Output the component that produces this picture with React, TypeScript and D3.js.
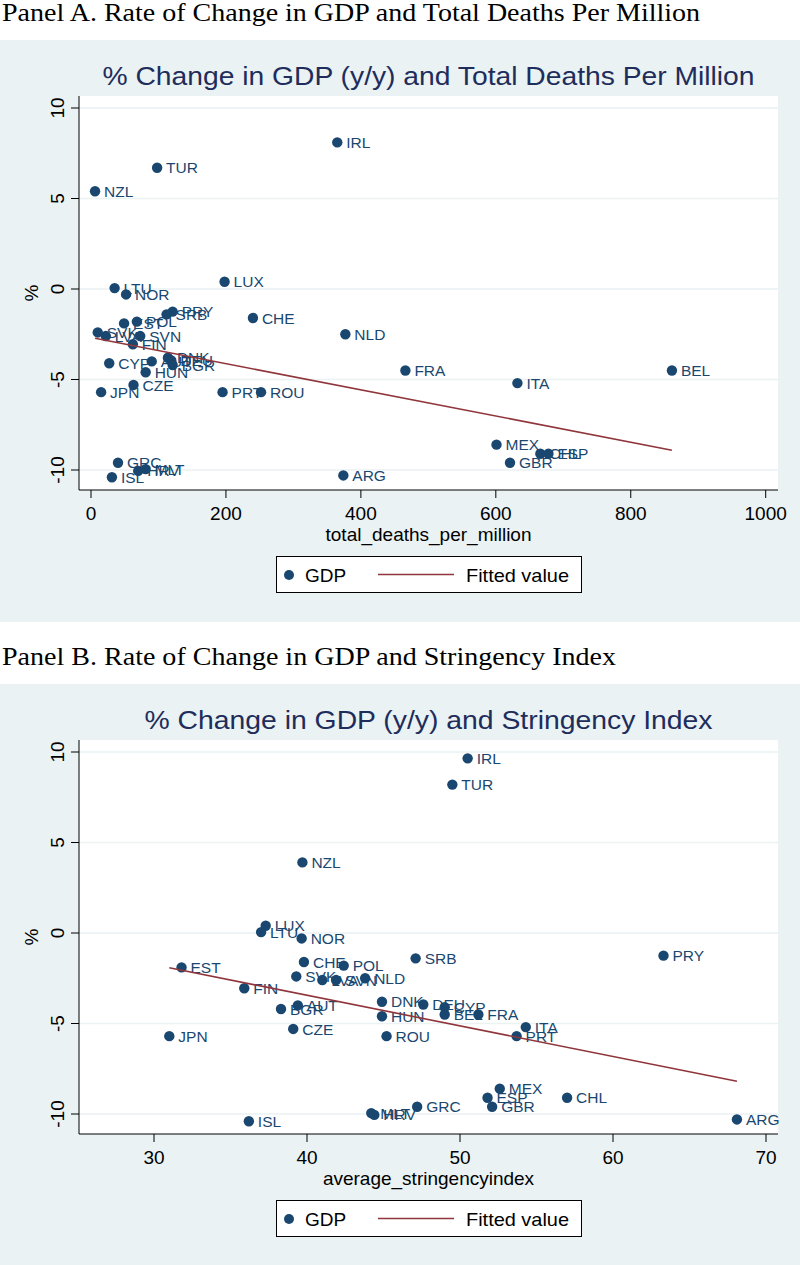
import React from "react";
import * as d3 from "d3";

const countries = ["IRL","TUR","NZL","LUX","LTU","NOR","PRY","SRB","EST","POL","CHE","NLD","SVK","LVA","SVN","FIN","CYP","AUT","DNK","DEU","BGR","HUN","CZE","JPN","PRT","ROU","FRA","ITA","BEL","MEX","CHL","ESP","GBR","ARG","GRC","HRV","MLT","ISL"];
// GDP growth as plotted in Panel A
const gdpGrowthA = [8.1,6.7,5.4,0.4,0.05,-0.3,-1.25,-1.4,-1.9,-1.8,-1.6,-2.5,-2.4,-2.6,-2.6,-3.05,-4.1,-4.0,-3.8,-3.95,-4.2,-4.6,-5.3,-5.7,-5.7,-5.7,-4.5,-5.2,-4.5,-8.6,-9.1,-9.1,-9.6,-10.3,-9.6,-10.05,-9.95,-10.4];
// GDP growth as plotted in Panel B
const gdpGrowthB = [9.65,8.2,3.9,0.4,0.05,-0.3,-1.25,-1.4,-1.9,-1.8,-1.6,-2.5,-2.4,-2.6,-2.6,-3.05,-4.1,-4.0,-3.8,-3.95,-4.2,-4.6,-5.3,-5.7,-5.7,-5.7,-4.5,-5.2,-4.5,-8.6,-9.1,-9.1,-9.6,-10.3,-9.6,-10.05,-9.95,-10.4];
const deathsPerMillion = [365,98,6,198,35,52,121,112,49,68,240,377,10,22,73,62,27,90,114,119,121,81,63,15,195,252,466,632,861,601,666,678,621,374,40,70,81,31];
const stringencyIndex = [50.5,49.5,39.7,37.3,37.0,39.65,63.3,47.1,31.8,42.4,39.8,43.8,39.3,41.0,41.9,35.9,49.0,39.4,44.9,47.6,38.3,44.9,39.1,31.0,53.7,45.2,51.2,54.3,49.0,52.6,57.0,51.8,52.1,68.1,47.2,44.4,44.2,36.2];
// Fitted value lines (intercept, slope) as drawn in each panel
const fitInterceptA = -2.68;
const fitSlopeA = -0.00723;
const fitInterceptB = 3.32;
const fitSlopeB = -0.169;
const deathTicks = [0,200,400,600,800,1000];
const stringencyTicks = [30,40,50,60,70];
const gdpTicks = [-10,-5,0,5,10];

const NAVY = "#1a476f";
const MAROON = "#90353b";
const BG = "#eaf2f3";
const TITLE = "#1e2d5b";
const SANS = "'Liberation Sans', Arial, sans-serif";
const SERIF = "'Liberation Serif', 'Times New Roman', serif";

type PanelProps = {
  top: number;
  heading: string;
  headingLen: number;
  title: string;
  titleLen: number;
  xs: number[];
  ys: number[];
  fitA: number;
  fitB: number;
  xTicks: number[];
  xDomain: [number, number];
  xRange: [number, number];
  xLabel: string;
};

function Panel({ top, heading, headingLen, title, titleLen, xs, ys, fitA, fitB, xTicks, xDomain, xRange, xLabel }: PanelProps) {
  const L = 79, R = 778, T = 96, B = 490;
  const x = d3.scaleLinear().domain(xDomain).range(xRange);
  const y = d3.scaleLinear().domain([-10, 10]).range([470, 108]);
  const [xmin, xmax] = d3.extent(xs) as [number, number];
  const line = d3.line<number>().x(d => x(d)).y(d => y(fitA + fitB * d));
  const cx = (L + R) / 2;
  return (
    <g transform={`translate(0,${top})`}>
      <text x={2} y={21} fontFamily={SERIF} fontSize={25} textLength={headingLen} lengthAdjust="spacingAndGlyphs" fill="#000">{heading}</text>
      <rect x={0} y={40} width={800} height={582} fill={BG} />
      <text x={cx} y={85} textAnchor="middle" fontFamily={SANS} fontSize={25} fill={TITLE} textLength={titleLen} lengthAdjust="spacingAndGlyphs">{title}</text>
      <rect x={L} y={T} width={R - L} height={B - T} fill="#fff" />
      {gdpTicks.map(t => (
        <line key={"g" + t} x1={L} x2={R} y1={y(t)} y2={y(t)} stroke={BG} strokeWidth={1.5} />
      ))}
      <line x1={L} x2={L} y1={T} y2={B} stroke="#000" strokeWidth={1} />
      <line x1={L} x2={R} y1={B} y2={B} stroke="#000" strokeWidth={1} />
      {gdpTicks.map(t => (
        <g key={"yt" + t}>
          <line x1={L - 8} x2={L} y1={y(t)} y2={y(t)} stroke="#000" />
          <text transform={`translate(64,${y(t)}) rotate(-90)`} textAnchor="middle" fontFamily={SANS} fontSize={19}>{t}</text>
        </g>
      ))}
      {xTicks.map(t => (
        <g key={"xt" + t}>
          <line x1={x(t)} x2={x(t)} y1={B} y2={B + 8} stroke="#000" />
          <text x={x(t)} y={520} textAnchor="middle" fontFamily={SANS} fontSize={19}>{t}</text>
        </g>
      ))}
      <text x={cx} y={541} textAnchor="middle" fontFamily={SANS} fontSize={19}>{xLabel}</text>
      <text transform={`translate(38,${(T + B) / 2}) rotate(-90)`} textAnchor="middle" fontFamily={SANS} fontSize={19}>%</text>
      {xs.map((v, i) => (
        <g key={countries[i]}>
          <circle cx={x(v)} cy={y(ys[i])} r={5.2} fill={NAVY} />
          <text x={x(v) + 9} y={y(ys[i])} dy="0.36em" fontFamily={SANS} fontSize={15.5} fill={NAVY}>{countries[i]}</text>
        </g>
      ))}
      <path d={line([xmin, xmax]) || ""} fill="none" stroke={MAROON} strokeWidth={1.6} />
      <rect x={276.5} y={556.5} width={305} height={36} fill="#fff" stroke="#000" strokeWidth={1} />
      <circle cx={289} cy={575} r={5} fill={NAVY} />
      <text x={305} y={582} fontFamily={SANS} fontSize={19}>GDP</text>
      <line x1={378} x2={454} y1={574.5} y2={574.5} stroke={MAROON} strokeWidth={1.6} />
      <text x={466} y={582} fontFamily={SANS} fontSize={19} textLength={103} lengthAdjust="spacingAndGlyphs">Fitted value</text>
    </g>
  );
}

export default function App() {
  return (
    <svg width={800} height={1265} style={{ position: "absolute", left: 0, top: 0, background: "#fff" }}>
      <Panel
        top={0}
        heading="Panel A. Rate of Change in GDP and Total Deaths Per Million"
        headingLen={698}
        title="% Change in GDP (y/y) and Total Deaths Per Million"
        titleLen={652}
        xs={deathsPerMillion}
        ys={gdpGrowthA}
        fitA={fitInterceptA}
        fitB={fitSlopeA}
        xTicks={deathTicks}
        xDomain={[0, 1000]}
        xRange={[91, 765.7]}
        xLabel="total_deaths_per_million"
      />
      <Panel
        top={644}
        heading="Panel B. Rate of Change in GDP and Stringency Index"
        headingLen={614}
        title="% Change in GDP (y/y) and Stringency Index"
        titleLen={568}
        xs={stringencyIndex}
        ys={gdpGrowthB}
        fitA={fitInterceptB}
        fitB={fitSlopeB}
        xTicks={stringencyTicks}
        xDomain={[30, 70]}
        xRange={[154, 766]}
        xLabel="average_stringencyindex"
      />
    </svg>
  );
}
